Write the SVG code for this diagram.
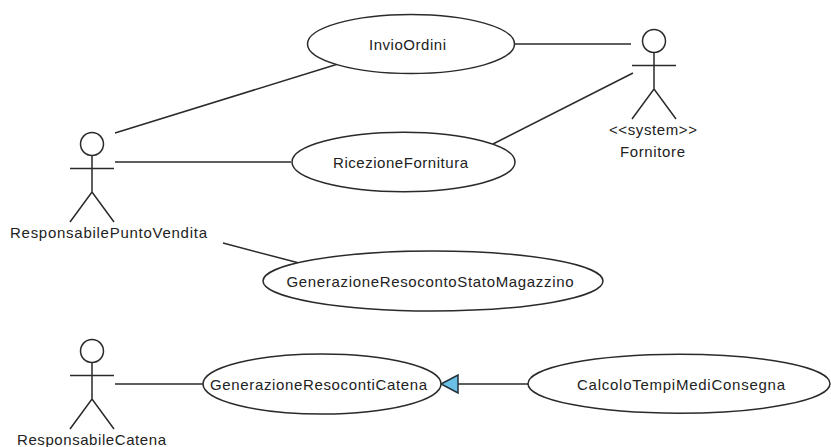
<svg xmlns="http://www.w3.org/2000/svg" width="831" height="447" viewBox="0 0 831 447">
<style>
.s{fill:none;stroke:#2a2a2a;stroke-width:1.5}
.e{fill:#fff;stroke:#2a2a2a;stroke-width:1.5}
text{font-family:"Liberation Sans",Arial,sans-serif;font-size:15px;fill:#222;text-anchor:middle}
</style>
<defs>
<g id="actor" class="s"><circle cx="0" cy="0" r="11.5"/><path d="M0 11.5V48M-22 24.500H22M-22 78L0 48L22 78"/></g>
</defs>
<rect width="831" height="447" fill="#fff"/>
<g id="connectors" class="s">
<line x1="115" y1="133" x2="338" y2="64"/>
<line x1="513" y1="44" x2="631" y2="44"/>
<line x1="115" y1="162" x2="291" y2="162"/>
<line x1="493" y1="144" x2="633" y2="73"/>
<line x1="223" y1="243" x2="300" y2="263.300"/>
<line x1="115" y1="384" x2="203" y2="384"/>
<line x1="458" y1="384" x2="528" y2="384"/>
<polygon points="441,384 458,375 458,393" fill="#6cc0e8" stroke="#22323a" stroke-width="1.500"/>
</g>
<g id="n-invio"><ellipse class="e" cx="411" cy="44" rx="103.500" ry="29.500"/><text x="407.500" y="50" textLength="77">InvioOrdini</text></g>
<g id="n-ricezione"><ellipse class="e" cx="403.500" cy="162" rx="111.500" ry="29.700"/><text x="400.500" y="168" textLength="135">RicezioneFornitura</text></g>
<g id="n-stato"><ellipse class="e" cx="433" cy="281" rx="170" ry="30"/><text x="430" y="287" textLength="287">GenerazioneResocontoStatoMagazzino</text></g>
<g id="n-catena"><ellipse class="e" cx="322" cy="384" rx="119" ry="30"/><text x="318.500" y="390" textLength="217">GenerazioneResocontiCatena</text></g>
<g id="n-calcolo"><ellipse class="e" cx="679" cy="383.700" rx="151" ry="29.500"/><text x="681" y="390" textLength="208">CalcoloTempiMediConsegna</text></g>
<g id="a-fornitore"><use href="#actor" x="654" y="41"/><text x="653" y="135" textLength="88">&lt;&lt;system&gt;&gt;</text><text x="652.500" y="157" textLength="65">Fornitore</text></g>
<g id="a-punto"><use href="#actor" x="92" y="144"/><text x="108.500" y="238" textLength="197">ResponsabilePuntoVendita</text></g>
<g id="a-catena"><use href="#actor" x="92" y="351"/><text x="91.500" y="445" textLength="149">ResponsabileCatena</text></g>
</svg>
